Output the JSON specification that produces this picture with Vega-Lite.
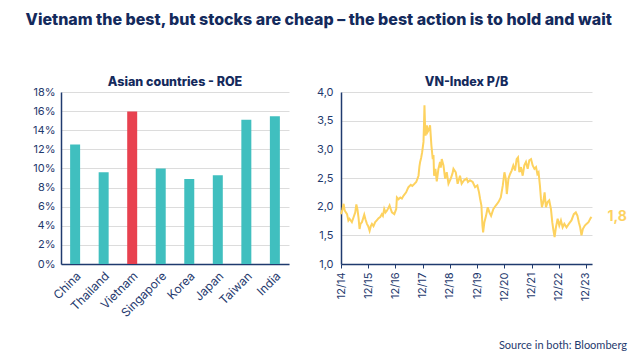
{
  "$schema": "https://vega.github.io/schema/vega-lite/v6.json",
  "background": "white",
  "padding": {"left": 25, "top": 11, "right": 5, "bottom": 5},
  "title": {"text": "Vietnam the best, but stocks are cheap – the best action is to hold and wait", "anchor": "start", "dx": -7, "font": "Inter", "fontSize": 16, "fontWeight": 800, "color": "#142a5c", "offset": 48},
  "datasets": {
    "roe": [
      {"country": "China", "roe": 12.5},
      {"country": "Thailand", "roe": 9.6},
      {"country": "Vietnam", "roe": 15.95},
      {"country": "Singapore", "roe": 10.0},
      {"country": "Korea", "roe": 8.9},
      {"country": "Japan", "roe": 9.3},
      {"country": "Taiwan", "roe": 15.1},
      {"country": "India", "roe": 15.45}
    ],
    "pb": [
      {"date": "2014-12-01", "pb": 1.87},
      {"date": "2014-12-20", "pb": 1.95},
      {"date": "2015-01-05", "pb": 2.05},
      {"date": "2015-01-20", "pb": 1.93},
      {"date": "2015-02-20", "pb": 1.87},
      {"date": "2015-03-10", "pb": 1.76},
      {"date": "2015-03-25", "pb": 1.79},
      {"date": "2015-04-26", "pb": 1.73},
      {"date": "2015-05-20", "pb": 1.82},
      {"date": "2015-06-10", "pb": 1.9},
      {"date": "2015-06-25", "pb": 2.04},
      {"date": "2015-07-10", "pb": 1.95},
      {"date": "2015-07-24", "pb": 1.81},
      {"date": "2015-08-07", "pb": 1.61},
      {"date": "2015-08-20", "pb": 1.7},
      {"date": "2015-09-08", "pb": 1.73},
      {"date": "2015-09-25", "pb": 1.8},
      {"date": "2015-10-09", "pb": 1.86},
      {"date": "2015-10-25", "pb": 1.78},
      {"date": "2015-11-14", "pb": 1.7},
      {"date": "2015-12-01", "pb": 1.66},
      {"date": "2015-12-20", "pb": 1.58},
      {"date": "2016-01-05", "pb": 1.66},
      {"date": "2016-01-20", "pb": 1.7},
      {"date": "2016-02-10", "pb": 1.66},
      {"date": "2016-03-04", "pb": 1.73},
      {"date": "2016-03-25", "pb": 1.76},
      {"date": "2016-04-18", "pb": 1.8},
      {"date": "2016-05-10", "pb": 1.82},
      {"date": "2016-06-01", "pb": 1.87},
      {"date": "2016-06-15", "pb": 1.84},
      {"date": "2016-07-03", "pb": 1.96},
      {"date": "2016-07-20", "pb": 1.9},
      {"date": "2016-08-08", "pb": 1.93},
      {"date": "2016-08-25", "pb": 1.97},
      {"date": "2016-09-13", "pb": 2.02},
      {"date": "2016-09-28", "pb": 1.96},
      {"date": "2016-10-14", "pb": 1.9},
      {"date": "2016-11-15", "pb": 1.87},
      {"date": "2016-12-11", "pb": 1.96},
      {"date": "2016-12-20", "pb": 2.16},
      {"date": "2017-01-10", "pb": 2.13},
      {"date": "2017-02-04", "pb": 2.16},
      {"date": "2017-02-25", "pb": 2.14},
      {"date": "2017-03-18", "pb": 2.19},
      {"date": "2017-04-23", "pb": 2.25},
      {"date": "2017-05-10", "pb": 2.3},
      {"date": "2017-05-24", "pb": 2.34},
      {"date": "2017-06-25", "pb": 2.38},
      {"date": "2017-07-15", "pb": 2.36},
      {"date": "2017-07-30", "pb": 2.38},
      {"date": "2017-09-05", "pb": 2.43},
      {"date": "2017-09-20", "pb": 2.48},
      {"date": "2017-10-06", "pb": 2.54},
      {"date": "2017-10-18", "pb": 2.7},
      {"date": "2017-10-28", "pb": 2.78},
      {"date": "2017-11-10", "pb": 2.85},
      {"date": "2017-11-24", "pb": 2.95},
      {"date": "2017-12-12", "pb": 3.13},
      {"date": "2017-12-20", "pb": 3.5},
      {"date": "2017-12-25", "pb": 3.77},
      {"date": "2018-01-01", "pb": 3.45},
      {"date": "2018-01-08", "pb": 3.24},
      {"date": "2018-01-26", "pb": 3.42},
      {"date": "2018-02-05", "pb": 3.3},
      {"date": "2018-02-18", "pb": 3.33},
      {"date": "2018-03-10", "pb": 3.42},
      {"date": "2018-03-28", "pb": 3.07},
      {"date": "2018-04-15", "pb": 2.83},
      {"date": "2018-04-25", "pb": 2.9},
      {"date": "2018-05-03", "pb": 2.54},
      {"date": "2018-05-21", "pb": 2.66},
      {"date": "2018-06-08", "pb": 2.44},
      {"date": "2018-06-30", "pb": 2.66},
      {"date": "2018-07-22", "pb": 2.78},
      {"date": "2018-08-01", "pb": 2.68},
      {"date": "2018-08-14", "pb": 2.83},
      {"date": "2018-09-06", "pb": 2.72},
      {"date": "2018-09-28", "pb": 2.49},
      {"date": "2018-10-20", "pb": 2.6},
      {"date": "2018-11-12", "pb": 2.4},
      {"date": "2018-12-13", "pb": 2.49},
      {"date": "2019-01-05", "pb": 2.58},
      {"date": "2019-01-18", "pb": 2.66},
      {"date": "2019-02-18", "pb": 2.6},
      {"date": "2019-03-15", "pb": 2.4},
      {"date": "2019-04-16", "pb": 2.54},
      {"date": "2019-05-08", "pb": 2.4},
      {"date": "2019-06-09", "pb": 2.46},
      {"date": "2019-07-14", "pb": 2.49},
      {"date": "2019-08-01", "pb": 2.43},
      {"date": "2019-08-28", "pb": 2.46},
      {"date": "2019-10-03", "pb": 2.43},
      {"date": "2019-11-04", "pb": 2.34},
      {"date": "2019-12-05", "pb": 2.37},
      {"date": "2019-12-27", "pb": 2.25},
      {"date": "2020-01-10", "pb": 2.14},
      {"date": "2020-01-28", "pb": 2.02},
      {"date": "2020-02-11", "pb": 1.67},
      {"date": "2020-02-20", "pb": 1.55},
      {"date": "2020-03-08", "pb": 1.73},
      {"date": "2020-03-30", "pb": 1.84},
      {"date": "2020-04-22", "pb": 1.99},
      {"date": "2020-05-14", "pb": 1.9},
      {"date": "2020-06-06", "pb": 1.84},
      {"date": "2020-07-07", "pb": 1.96},
      {"date": "2020-08-08", "pb": 2.02},
      {"date": "2020-09-13", "pb": 2.08},
      {"date": "2020-10-14", "pb": 2.16},
      {"date": "2020-11-10", "pb": 2.37},
      {"date": "2020-12-02", "pb": 2.6},
      {"date": "2020-12-20", "pb": 2.49},
      {"date": "2021-01-03", "pb": 2.22},
      {"date": "2021-01-25", "pb": 2.49},
      {"date": "2021-02-16", "pb": 2.57},
      {"date": "2021-03-09", "pb": 2.63},
      {"date": "2021-03-31", "pb": 2.72},
      {"date": "2021-04-23", "pb": 2.63},
      {"date": "2021-05-15", "pb": 2.83},
      {"date": "2021-06-02", "pb": 2.86},
      {"date": "2021-06-20", "pb": 2.6},
      {"date": "2021-07-12", "pb": 2.69},
      {"date": "2021-08-04", "pb": 2.54},
      {"date": "2021-08-26", "pb": 2.72},
      {"date": "2021-09-17", "pb": 2.78},
      {"date": "2021-10-10", "pb": 2.66},
      {"date": "2021-11-01", "pb": 2.81},
      {"date": "2021-11-24", "pb": 2.83},
      {"date": "2021-12-16", "pb": 2.72},
      {"date": "2022-01-08", "pb": 2.66},
      {"date": "2022-01-30", "pb": 2.69},
      {"date": "2022-02-17", "pb": 2.57},
      {"date": "2022-03-05", "pb": 2.6},
      {"date": "2022-03-23", "pb": 2.37},
      {"date": "2022-04-06", "pb": 2.14},
      {"date": "2022-04-19", "pb": 1.99},
      {"date": "2022-05-07", "pb": 2.08},
      {"date": "2022-05-25", "pb": 2.25},
      {"date": "2022-06-12", "pb": 1.99},
      {"date": "2022-07-04", "pb": 2.08},
      {"date": "2022-07-26", "pb": 2.11},
      {"date": "2022-08-18", "pb": 1.96},
      {"date": "2022-09-05", "pb": 1.73},
      {"date": "2022-09-18", "pb": 1.61},
      {"date": "2022-10-06", "pb": 1.47},
      {"date": "2022-10-24", "pb": 1.64},
      {"date": "2022-11-16", "pb": 1.79},
      {"date": "2022-12-08", "pb": 1.67},
      {"date": "2022-12-30", "pb": 1.76},
      {"date": "2023-01-22", "pb": 1.64},
      {"date": "2023-02-14", "pb": 1.7},
      {"date": "2023-03-15", "pb": 1.64},
      {"date": "2023-04-15", "pb": 1.7},
      {"date": "2023-05-20", "pb": 1.76},
      {"date": "2023-06-21", "pb": 1.87},
      {"date": "2023-07-18", "pb": 1.9},
      {"date": "2023-08-09", "pb": 1.84},
      {"date": "2023-08-27", "pb": 1.73},
      {"date": "2023-09-14", "pb": 1.64},
      {"date": "2023-10-02", "pb": 1.5},
      {"date": "2023-10-20", "pb": 1.61},
      {"date": "2023-11-16", "pb": 1.67},
      {"date": "2023-12-08", "pb": 1.7},
      {"date": "2024-01-04", "pb": 1.73},
      {"date": "2024-02-01", "pb": 1.8},
      {"date": "2024-02-14", "pb": 1.82}
    ],
    "last": [{"date": "2024-02-14", "pb": 1.82, "label": "1,8"}]
  },
  "vconcat": [
    {
      "title": {"text": "Source in both: Bloomberg", "orient": "bottom", "anchor": "end", "font": "Lato", "fontSize": 11, "fontWeight": "normal", "color": "#1f3a6e", "offset": 21},
      "spacing": 27,
      "hconcat": [
        {
          "width": 228,
          "height": 172,
          "title": {"text": "Asian countries - ROE", "font": "Inter", "fontSize": 12.5, "fontWeight": 800, "color": "#142a5c", "offset": -2},
          "data": {"name": "roe"},
          "mark": {"type": "bar"},
          "encoding": {
            "x": {"field": "country", "type": "nominal", "sort": null, "scale": {"paddingInner": 0.65, "paddingOuter": 0.32},
              "axis": {"title": null, "labelAngle": -45, "labelFont": "Inter", "labelFontSize": 12, "labelColor": "#1f3a6e", "ticks": false, "domainColor": "#1f3a6e", "domainWidth": 1.5, "labelPadding": 6}},
            "y": {"field": "roe", "type": "quantitative", "scale": {"domain": [0, 18]},
              "axis": {"title": null, "values": [0, 2, 4, 6, 8, 10, 12, 14, 16, 18], "labelOverlap": false, "labelExpr": "datum.value + '%'", "labelFont": "Inter", "labelFontSize": 11, "labelColor": "#1f3a6e", "ticks": false, "domainColor": "#1f3a6e", "domainWidth": 1.5, "gridColor": "#dcdcdc", "labelPadding": 6}},
            "color": {"condition": {"test": "datum.country === 'Vietnam'", "value": "#e8414f"}, "value": "#40bfbf"}
          }
        },
        {
          "width": 251,
          "height": 172,
          "title": {"text": "VN-Index P/B", "font": "Inter", "fontSize": 12.5, "fontWeight": 800, "color": "#142a5c", "offset": -2},
          "encoding": {
            "x": {"field": "date", "type": "temporal", "scale": {"domain": ["2014-12-01", "2024-02-20"]},
              "axis": {"title": null, "format": "%m/%y", "labelAngle": -90, "grid": false, "labelOverlap": false,
                "values": [{"year": 2014, "month": 12, "date": 1}, {"year": 2015, "month": 12, "date": 1}, {"year": 2016, "month": 12, "date": 1}, {"year": 2017, "month": 12, "date": 1}, {"year": 2018, "month": 12, "date": 1}, {"year": 2019, "month": 12, "date": 1}, {"year": 2020, "month": 12, "date": 1}, {"year": 2021, "month": 12, "date": 1}, {"year": 2022, "month": 12, "date": 1}, {"year": 2023, "month": 12, "date": 1}],
                "labelFont": "Inter", "labelFontSize": 11, "labelColor": "#1f3a6e", "tickColor": "#1f3a6e", "tickSize": 4, "domainColor": "#1f3a6e", "domainWidth": 1.5, "labelPadding": 4}},
            "y": {"field": "pb", "type": "quantitative", "scale": {"domain": [1, 4]},
              "axis": {"title": null, "values": [1, 1.5, 2, 2.5, 3, 3.5, 4], "labelOverlap": false, "labelExpr": "replace(format(datum.value, '.1f'), '.', ',')", "labelFont": "Inter", "labelFontSize": 11, "labelColor": "#1f3a6e", "ticks": false, "domainColor": "#1f3a6e", "domainWidth": 1.5, "gridColor": "#dcdcdc", "labelPadding": 8}}
          },
          "layer": [
            {
              "data": {"name": "pb"},
              "mark": {"type": "line", "color": "#fdd25f", "strokeWidth": 2}
            },
            {
              "data": {"name": "last"},
              "mark": {"type": "text", "align": "left", "dx": 16, "font": "Inter", "fontSize": 14, "fontWeight": "bold", "color": "#fdd25f"},
              "encoding": {
                "text": {"field": "label"}
              }
            }
          ]
        }
      ]
    }
  ],
  "config": {"view": {"stroke": null}, "concat": {"spacing": 27}}
}
